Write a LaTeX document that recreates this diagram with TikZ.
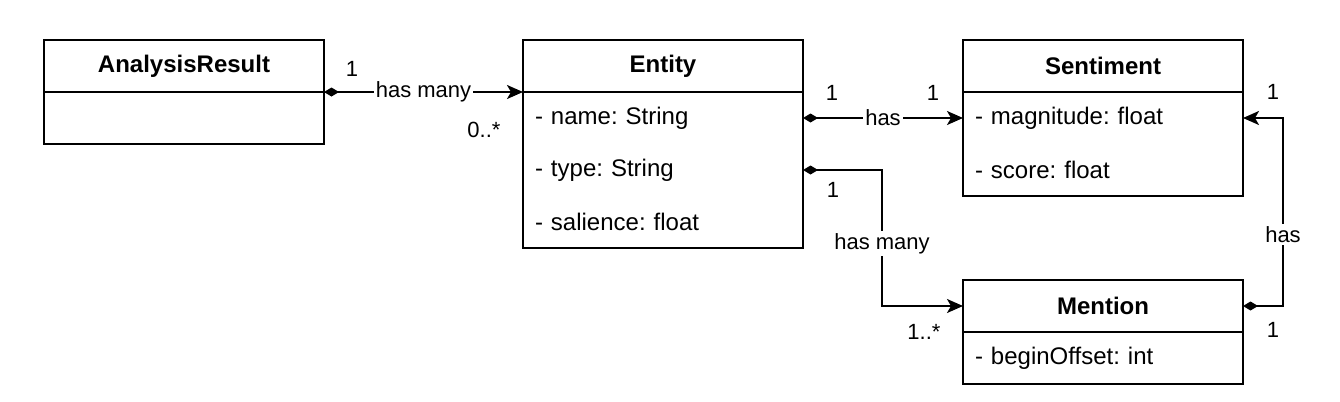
\documentclass[tikz,border=0pt]{standalone}
\usepackage{fontspec}
\setmainfont{Liberation Sans}
\usetikzlibrary{positioning,arrows.meta,fit}
\frenchspacing

\tikzset{
  classhead/.style={draw, rectangle, line width=1pt, minimum width=140pt, minimum height=26pt, outer sep=0pt, inner sep=0pt, font=\fontsize{12}{14}\selectfont\bfseries},
  classrow/.style={rectangle, text width=128pt, inner xsep=6pt, inner ysep=0pt, minimum height=26pt, outer sep=0pt, align=left, font=\fontsize{12}{14}\selectfont},
  classbody/.style={draw, rectangle, line width=1pt, inner sep=0pt, outer sep=0pt},
  assoc/.style={line width=1pt, {Diamond[length=7.5pt,width=4.5pt]}-{Stealth[length=8pt,width=7pt,inset=2pt]}},
  edgelabel/.style={fill=white, inner sep=1pt, font=\fontsize{11}{13}\selectfont},
  mult/.style={inner sep=0pt, font=\fontsize{11}{13}\selectfont},
}

\begin{document}
\begin{tikzpicture}[x=0.5pt, y=-0.5pt]
\useasboundingbox (0,0) rectangle (1340,402);

% AnalysisResult
\node[classhead, anchor=north west] (resHead) at (44,40) {AnalysisResult};
\node[classbody, minimum width=140pt, minimum height=26pt, below=0pt of resHead] (resBody) {};

% Entity
\node[classhead, anchor=north west] (entHead) at (523,40) {Entity};
\node[classrow, below=0pt of entHead] (entName) {- name: String};
\node[classrow, below=0pt of entName] (entType) {- type: String};
\node[classrow, below=0pt of entType] (entSal) {- salience: float};
\node[classbody, fit=(entName)(entSal)] (entBody) {};

% Sentiment
\node[classhead, anchor=north west] (sentHead) at (963,40) {Sentiment};
\node[classrow, below=0pt of sentHead] (sentMag) {- magnitude: float};
\node[classrow, below=0pt of sentMag] (sentScore) {- score: float};
\node[classbody, fit=(sentMag)(sentScore)] (sentBody) {};

% Mention
\node[classhead, anchor=north west] (menHead) at (963,280) {Mention};
\node[classrow, below=0pt of menHead] (menOffset) {- beginOffset: int};
\node[classbody, fit=(menOffset)] (menBody) {};

% Associations
\draw[assoc] (resHead.south east) -- node[edgelabel] {has many} (entHead.south west)
  node[mult, at start, xshift=14pt, yshift=11.5pt] {1}
  node[mult, at end, xshift=-19.5pt, yshift=-19pt] {0..*};

\draw[assoc] (entName.east) -- node[edgelabel] {has} (sentMag.west)
  node[mult, at start, xshift=14.5pt, yshift=12.5pt] {1}
  node[mult, at end, xshift=-15pt, yshift=12.5pt] {1};

\draw[assoc] (entType.east) -- ++(79,0) |- node[edgelabel, pos=0.27] {has many} (menHead.west)
  node[mult, at end, xshift=-19.5pt, yshift=-13pt] {1..*};
\node[mult] (entTypeOne) at (833,190) {1};

\draw[assoc] (menHead.east) -- ++(40,0) |- node[edgelabel, pos=0.19] {has} (sentMag.east)
  node[mult, at end, xshift=15pt, yshift=13pt] {1};
\node[mult] (menOne) at (1273,330) {1};

\end{tikzpicture}
\end{document}
